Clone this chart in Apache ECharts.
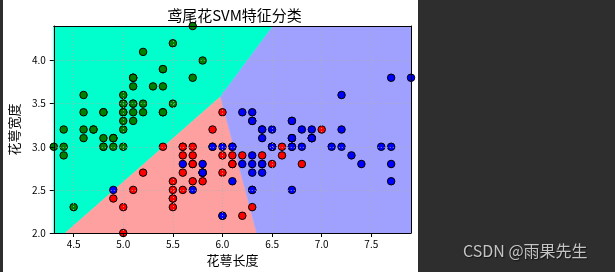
<!DOCTYPE html>
<html>
<head>
<meta charset="utf-8">
<script src="https://cdn.jsdelivr.net/npm/echarts@6/dist/echarts.min.js"></script>
<style>
html,body{margin:0;padding:0;background:#2e2e2e;}
#chart{width:615px;height:272px;}
</style>
</head>
<body>
<div id="chart"></div>
<script>
// Axis ranges and ticks
const xRange = [4.3, 7.9];
const yRange = [2.0, 4.4];
const xTicks = [4.5, 5.0, 5.5, 6.0, 6.5, 7.0, 7.5];
const yTicks = [2.0, 2.5, 3.0, 3.5, 4.0];

// Decision regions (boundary vertices, data units)
const regionSetosa = [[4.3,2.0],[4.415,2.0],[5.98,3.58],[6.51,4.4],[4.3,4.4]];
const regionVersicolor = [[4.415,2.0],[6.345,2.0],[5.98,3.58]];
const regionVirginica = [[6.345,2.0],[7.9,2.0],[7.9,4.4],[6.51,4.4],[5.98,3.58]];

// Samples: [sepal length, sepal width]
const setosa = [
[5.1,3.5],[4.9,3.0],[4.7,3.2],[4.6,3.1],[5.0,3.6],[5.4,3.9],[4.6,3.4],[5.0,3.4],[4.4,2.9],[4.9,3.1],
[5.4,3.7],[4.8,3.4],[4.8,3.0],[4.3,3.0],[5.8,4.0],[5.7,4.4],[5.4,3.9],[5.1,3.5],[5.7,3.8],[5.1,3.8],
[5.4,3.4],[5.1,3.7],[4.6,3.6],[5.1,3.3],[4.8,3.4],[5.0,3.0],[5.0,3.4],[5.2,3.5],[5.2,3.4],[4.7,3.2],
[4.8,3.1],[5.4,3.4],[5.2,4.1],[5.5,4.2],[4.9,3.1],[5.0,3.2],[5.5,3.5],[4.9,3.1],[4.4,3.0],[5.1,3.4],
[5.0,3.5],[4.5,2.3],[4.4,3.2],[5.0,3.5],[5.1,3.8],[4.8,3.0],[5.1,3.8],[4.6,3.2],[5.3,3.7],[5.0,3.3]
];
const versicolor = [
[7.0,3.2],[6.4,3.2],[6.9,3.1],[5.5,2.3],[6.5,2.8],[5.7,2.8],[6.3,3.3],[4.9,2.4],[6.6,2.9],[5.2,2.7],
[5.0,2.0],[5.9,3.0],[6.0,2.2],[6.1,2.9],[5.6,2.9],[6.7,3.1],[5.6,3.0],[5.8,2.7],[6.2,2.2],[5.6,2.5],
[5.9,3.2],[6.1,2.8],[6.3,2.5],[6.1,2.8],[6.4,2.9],[6.6,3.0],[6.8,2.8],[6.7,3.0],[6.0,2.9],[5.7,2.6],
[5.5,2.4],[5.5,2.4],[5.8,2.7],[6.0,2.7],[5.4,3.0],[6.0,3.4],[6.7,3.1],[6.3,2.3],[5.6,3.0],[5.5,2.5],
[5.5,2.6],[6.1,3.0],[5.8,2.6],[5.0,2.3],[5.6,2.7],[5.7,3.0],[5.7,2.9],[6.2,2.9],[5.1,2.5],[5.7,2.8]
];
const virginica = [
[6.3,3.3],[5.8,2.7],[7.1,3.0],[6.3,2.9],[6.5,3.0],[7.6,3.0],[4.9,2.5],[7.3,2.9],[6.7,2.5],[7.2,3.6],
[6.5,3.2],[6.4,2.7],[6.8,3.0],[5.7,2.5],[5.8,2.8],[6.4,3.2],[6.5,3.0],[7.7,3.8],[7.7,2.6],[6.0,2.2],
[6.9,3.2],[5.6,2.8],[7.7,2.8],[6.3,2.7],[6.7,3.3],[7.2,3.2],[6.2,2.8],[6.1,3.0],[6.4,2.8],[7.2,3.0],
[7.4,2.8],[7.9,3.8],[6.4,2.8],[6.3,2.8],[6.1,2.6],[7.7,3.0],[6.3,3.4],[6.4,3.1],[6.0,3.0],[6.9,3.1],
[6.7,3.1],[6.9,3.1],[5.8,2.7],[6.8,3.2],[6.7,3.3],[6.7,3.0],[6.3,2.5],[6.5,3.0],[6.2,3.4],[5.9,3.0]
];

const regions = [regionSetosa, regionVersicolor, regionVirginica];
const regionColors = ['#00FFCC', '#FFA0A0', '#A0A0FF'];
const pointColors = ['#008000', '#FF0000', '#0000FF'];

const FONT = '"Noto Sans CJK SC", "DejaVu Sans", sans-serif';
const chart = echarts.init(document.getElementById('chart'), null, {renderer: 'canvas'});

function mainAxis(range, ticks, splitNumber) {
  return {
    type: 'value', min: range[0], max: range[1], splitNumber, z: 5,
    axisLine: {show: true, onZero: false, lineStyle: {color: '#000', width: 1}},
    axisTick: {show: true, length: 4, customValues: ticks, lineStyle: {color: '#000'}},
    splitLine: {show: true, lineStyle: {color: '#b0b0b0', type: [1, 2], width: 0.8}},
    axisLabel: {color: '#000', fontSize: 10, fontFamily: FONT, customValues: ticks,
      showMinLabel: true, showMaxLabel: true,
      formatter: v => (ticks.some(t => Math.abs(t - v) < 1e-9) ? v.toFixed(1) : '')}
  };
}
const frameAxis = {
  type: 'value', z: 5,
  axisLine: {show: true, onZero: false, lineStyle: {color: '#000', width: 1}},
  axisTick: {show: false}, axisLabel: {show: false}, splitLine: {show: false}
};

function scatterSeries(name, data, color) {
  return {
    name, type: 'scatter', data, symbol: 'circle', symbolSize: 7.5,
    itemStyle: {color, borderColor: '#000', borderWidth: 1, opacity: 1},
    z: 3, silent: true
  };
}

const xMain = mainAxis(xRange, xTicks, 7);
Object.assign(xMain, {position: 'bottom', name: '花萼长度', nameLocation: 'middle', nameGap: 19,
  nameTextStyle: {fontSize: 13, color: '#000', fontFamily: FONT}});
xMain.axisLabel.margin = 6;
const yMain = mainAxis(yRange, yTicks, 5);
Object.assign(yMain, {position: 'left', name: '花萼宽度', nameLocation: 'middle', nameGap: 28,
  nameTextStyle: {fontSize: 13, color: '#000', fontFamily: FONT}});
yMain.axisLabel.margin = 8;

chart.setOption({
  animation: false,
  backgroundColor: '#2e2e2e',
  graphic: [
    {type: 'rect', left: 3, top: 0, z: -100, shape: {width: 415, height: 272}, style: {fill: '#ffffff'}},
    {type: 'text', left: 463, top: 243, z: 100,
      style: {text: 'CSDN @雨果先生', fill: '#c4c4c4', font: '16px ' + FONT,
        textShadowColor: 'rgba(0,0,0,0.6)', textShadowBlur: 1, textShadowOffsetX: 1, textShadowOffsetY: 1}}
  ],
  title: {
    text: '鸢尾花SVM特征分类', left: 229.5, top: 3, textAlign: 'center',
    textStyle: {fontSize: 15, fontWeight: 'normal', color: '#000', fontFamily: FONT}
  },
  grid: {left: 48, top: 26, right: 204, bottom: 39, containLabel: false},
  xAxis: [xMain, Object.assign({}, frameAxis, {min: xRange[0], max: xRange[1], position: 'top'})],
  yAxis: [yMain, Object.assign({}, frameAxis, {min: yRange[0], max: yRange[1], position: 'right'})],
  series: [
    {
      type: 'custom', silent: true, z: 1, clip: true,
      data: regions.map((r, i) => [i]),
      renderItem: function (params, api) {
        const poly = regions[params.dataIndex];
        return {
          type: 'polygon',
          shape: {points: poly.map(p => api.coord(p))},
          style: {fill: regionColors[params.dataIndex], stroke: regionColors[params.dataIndex], lineWidth: 0.5}
        };
      }
    },
    scatterSeries('setosa', setosa, pointColors[0]),
    scatterSeries('versicolor', versicolor, pointColors[1]),
    scatterSeries('virginica', virginica, pointColors[2])
  ]
});
</script>
</body>
</html>
